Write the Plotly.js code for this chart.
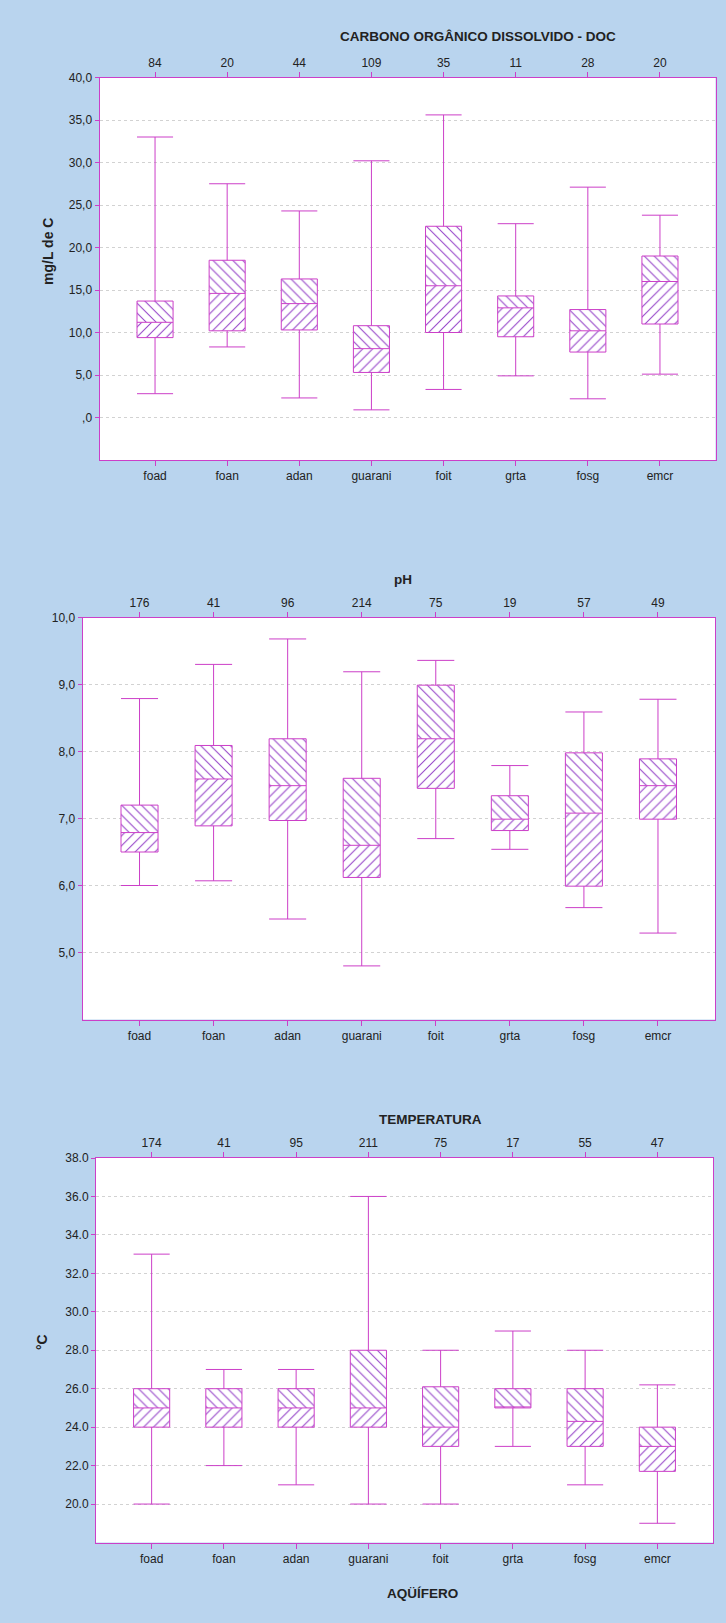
<!DOCTYPE html>
<html>
<head>
<meta charset="utf-8">
<script src="https://cdn.plot.ly/plotly-3.0.1.min.js"></script>
<style>html,body{margin:0;padding:0;background:#b9d4ee;}#chart{width:726px;height:1623px;}</style>
</head>
<body>
<div id="chart"></div>
<script>
const categories = ['foad','foan','adan','guarani','foit','grta','fosg','emcr'];

// Carbono orgânico dissolvido (mg/L de C)
const docN   = [84, 20, 44, 109, 35, 11, 28, 20];
const docMin = [2.8, 8.3, 2.3, 0.9, 3.3, 4.9, 2.2, 5.1];
const docQ1  = [9.4, 10.2, 10.3, 5.3, 10.0, 9.5, 7.7, 11.0];
const docMed = [11.2, 14.6, 13.4, 8.1, 15.5, 12.9, 10.2, 16.0];
const docQ3  = [13.7, 18.5, 16.3, 10.8, 22.5, 14.3, 12.7, 19.0];
const docMax = [33.0, 27.5, 24.3, 30.2, 35.6, 22.8, 27.1, 23.8];
const docTickVals = [0, 5, 10, 15, 20, 25, 30, 35, 40];
const docTickText = [',0', '5,0', '10,0', '15,0', '20,0', '25,0', '30,0', '35,0', '40,0'];

// pH
const phN   = [176, 41, 96, 214, 75, 19, 57, 49];
const phMin = [6.0, 6.07, 5.5, 4.8, 6.7, 6.54, 5.67, 5.29];
const phQ1  = [6.5, 6.89, 6.97, 6.12, 7.45, 6.82, 5.99, 6.99];
const phMed = [6.79, 7.59, 7.49, 6.6, 8.19, 6.99, 7.08, 7.49];
const phQ3  = [7.2, 8.09, 8.19, 7.6, 8.99, 7.34, 7.98, 7.89];
const phMax = [8.79, 9.3, 9.68, 9.19, 9.36, 7.79, 8.59, 8.78];
const phTickVals = [5, 6, 7, 8, 9, 10];
const phTickText = ['5,0', '6,0', '7,0', '8,0', '9,0', '10,0'];

// Temperatura (°C)
const tempN   = [174, 41, 95, 211, 75, 17, 55, 47];
const tempMin = [20, 22, 21, 20, 20, 23, 21, 19];
const tempQ1  = [24, 24, 24, 24, 23, 25, 23, 21.7];
const tempMed = [25, 25, 25, 25, 24, 25, 24.3, 23];
const tempQ3  = [26, 26, 26, 28, 26.1, 26, 26, 24];
const tempMax = [33, 27, 27, 36, 28, 29, 28, 26.2];
const tempTickVals = [20, 22, 24, 26, 28, 30, 32, 34, 36, 38];
const tempTickText = ['20.0', '22.0', '24.0', '26.0', '28.0', '30.0', '32.0', '34.0', '36.0', '38.0'];

const idx = categories.map((_, i) => i);
const MAG = '#cc3fc8';
const HATCH = '#9442c8';
const TXT = '#222';
const FONT = '"Liberation Sans Narrow", "Arial Narrow", "Liberation Sans", Arial, sans-serif';
const BFONT = '"Liberation Sans", Arial, sans-serif';

function panel(xa, xaTop, ya, mn, q1, med, q3, mx) {
  const lower = {
    type: 'bar', x: idx, base: q1, y: med.map((m, i) => m - q1[i]),
    width: 0.5, xaxis: xa, yaxis: ya, hoverinfo: 'skip', showlegend: false,
    marker: {color: 'white', line: {width: 0},
      pattern: {shape: '/', fgcolor: HATCH, bgcolor: 'white', size: 7, solidity: 0.15}}
  };
  const upper = {
    type: 'bar', x: idx, base: med, y: q3.map((q, i) => q - med[i]),
    width: 0.5, xaxis: xa, yaxis: ya, hoverinfo: 'skip', showlegend: false,
    marker: {color: 'white', line: {width: 0},
      pattern: {shape: '\\', fgcolor: HATCH, bgcolor: 'white', size: 7, solidity: 0.15}}
  };
  const box = {
    type: 'box', orientation: 'v', x: idx, q1: q1, median: med, q3: q3,
    lowerfence: mn, upperfence: mx, width: 0.5, whiskerwidth: 1,
    boxpoints: false, fillcolor: 'rgba(0,0,0,0)', line: {color: MAG, width: 1},
    xaxis: xaTop, yaxis: ya, hoverinfo: 'skip', showlegend: false
  };
  return [lower, upper, box];
}

const data = [].concat(
  panel('x', 'x4', 'y', docMin, docQ1, docMed, docQ3, docMax),
  panel('x2', 'x5', 'y2', phMin, phQ1, phMed, phQ3, phMax),
  panel('x3', 'x6', 'y3', tempMin, tempQ1, tempMed, tempQ3, tempMax)
);

const XR = [-0.77, 7.77];
function xBottom(dom, anchor) {
  return {domain: dom, anchor: anchor, range: XR, tickmode: 'array', tickvals: idx, ticktext: categories,
    showline: true, mirror: true, linecolor: MAG, linewidth: 1, ticks: 'outside', ticklen: 5,
    tickcolor: MAG, showgrid: false, zeroline: false, tickfont: {family: FONT, size: 12, color: TXT}};
}
function xTop(over, anchor, counts) {
  return {overlaying: over, anchor: anchor, side: 'top', range: XR, tickmode: 'array', tickvals: idx,
    ticktext: counts.map(String), showline: false, ticks: 'outside', ticklen: 5, tickcolor: MAG,
    showgrid: false, zeroline: false, tickfont: {family: FONT, size: 12, color: TXT}};
}
function yAx(dom, anchor, range, tv, tt) {
  return {domain: dom, anchor: anchor, range: range, tickmode: 'array', tickvals: tv, ticktext: tt,
    showline: true, mirror: true, linecolor: MAG, linewidth: 1, ticks: 'outside', ticklen: 4,
    tickcolor: MAG, showgrid: true, gridcolor: '#d2d2d2', griddash: 'dot', gridwidth: 1,
    zeroline: false, tickfont: {family: FONT, size: 12, color: TXT}};
}

const W = 726, H = 1623;
const px = v => v / W, py = v => 1 - v / H;
function label(text, x, y, size, angle) {
  return {text: text, x: px(x), y: py(y), xref: 'paper', yref: 'paper', xanchor: 'center', yanchor: 'middle',
    textangle: angle || 0, showarrow: false, font: {family: BFONT, size: size, color: TXT, weight: 'bold'}};
}

const layout = {
  width: W, height: H, margin: {l: 0, r: 0, t: 0, b: 0},
  paper_bgcolor: '#b9d4ee', plot_bgcolor: 'white', barmode: 'overlay', showlegend: false,
  xaxis:  xBottom([px(99.5), px(715.5)], 'y'),
  xaxis2: xBottom([px(82.5), px(715)], 'y2'),
  xaxis3: xBottom([px(96), px(713)], 'y3'),
  xaxis4: xTop('x', 'y', docN),
  xaxis5: xTop('x2', 'y2', phN),
  xaxis6: xTop('x3', 'y3', tempN),
  yaxis:  yAx([py(460), py(77.5)], 'x', [-5, 40], docTickVals, docTickText),
  yaxis2: yAx([py(1019.5), py(617.5)], 'x2', [4, 10], phTickVals, phTickText),
  yaxis3: yAx([py(1542.5), py(1158)], 'x3', [18, 38], tempTickVals, tempTickText),
  annotations: [
    label('CARBONO ORGÂNICO DISSOLVIDO - DOC', 478, 36.5, 13.5),
    label('pH', 403, 579, 13.5),
    label('TEMPERATURA', 430, 1119, 13.5),
    label('AQÜÍFERO', 422, 1593, 13.5),
    label('mg/L de C', 48, 252, 14, -90),
    label('°C', 42, 1342, 14, -90)
  ]
};

Plotly.newPlot('chart', data, layout, {staticPlot: true, displayModeBar: false});
</script>
</body>
</html>
